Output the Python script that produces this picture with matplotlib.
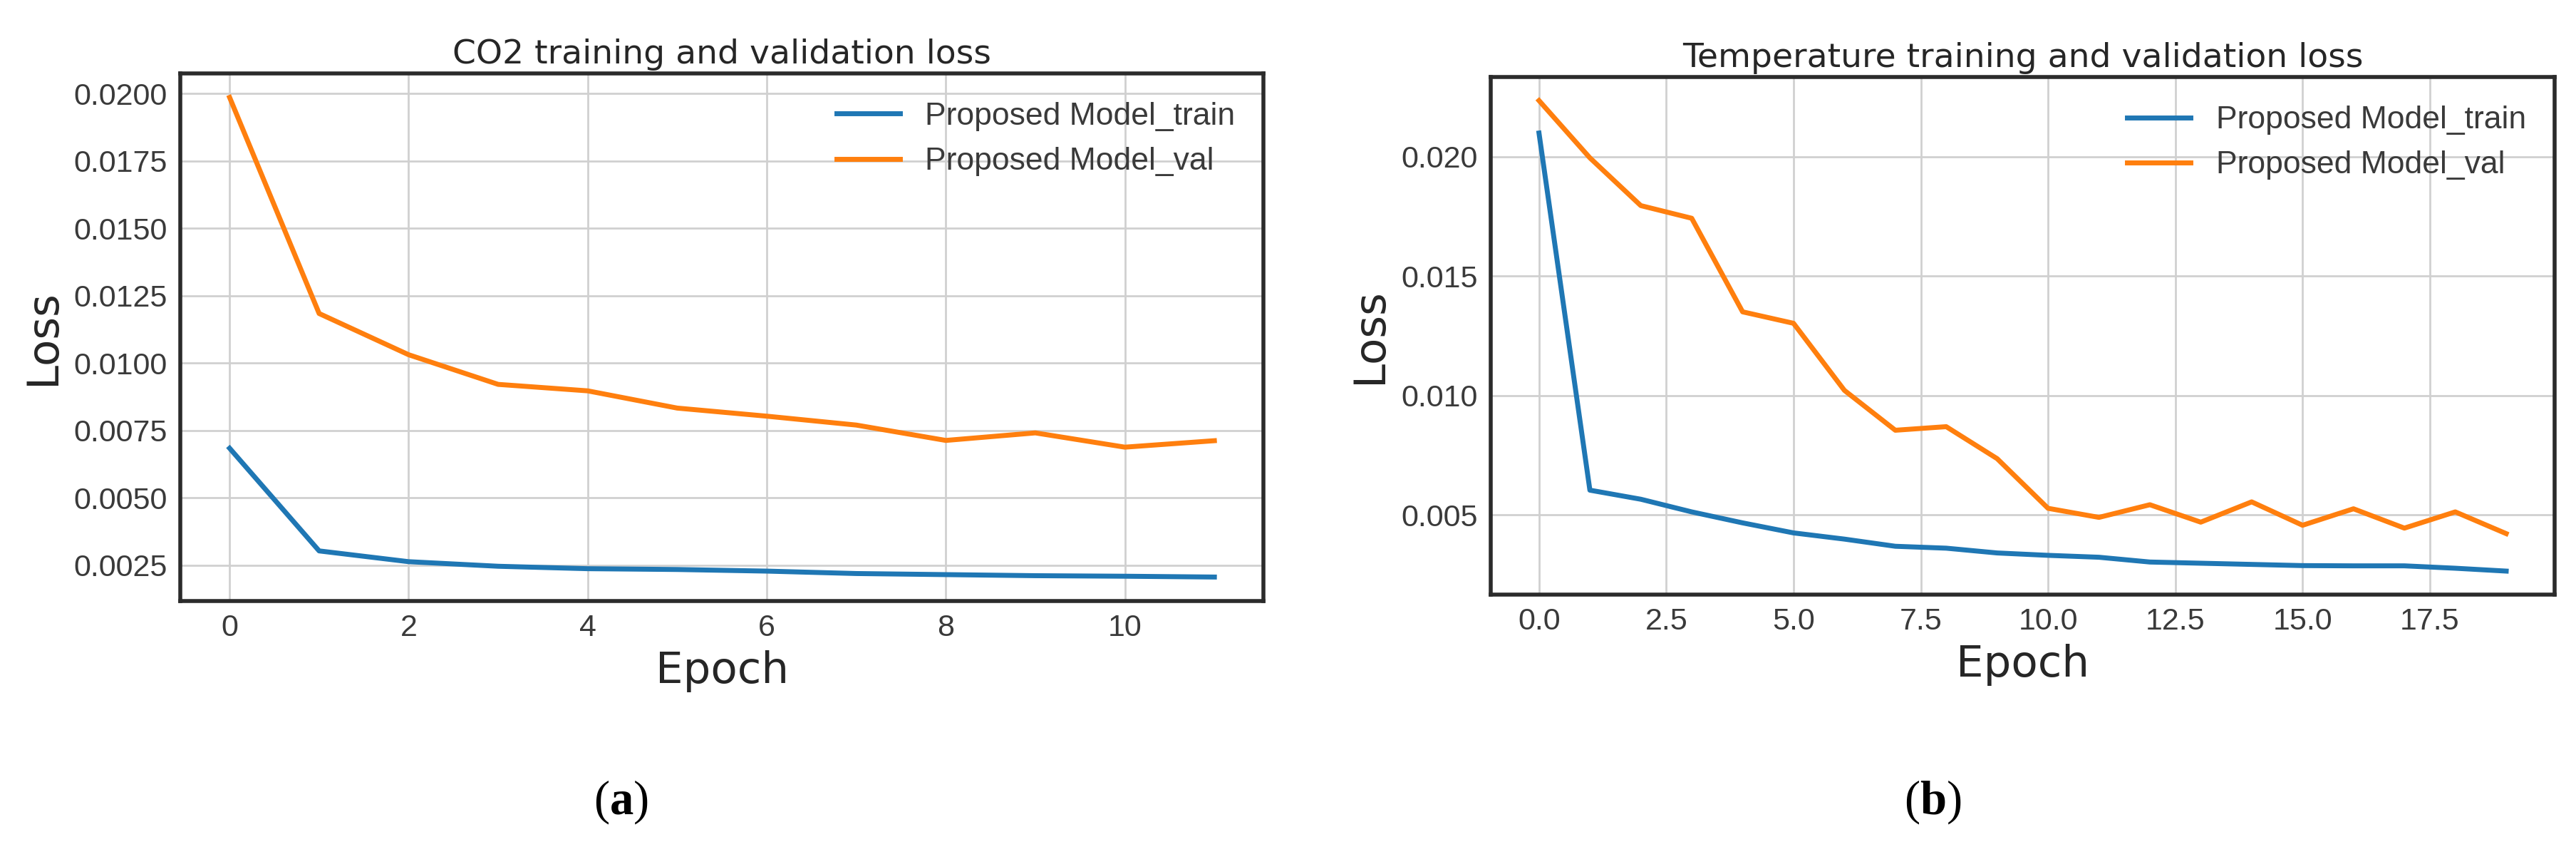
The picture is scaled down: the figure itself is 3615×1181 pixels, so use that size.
import matplotlib
matplotlib.use("Agg")
import matplotlib.pyplot as plt
from matplotlib.ticker import MultipleLocator

# CO2 panel (12 epochs)
co2_epochs = list(range(12))
co2_train = [0.00684, 0.00303, 0.00263, 0.00246, 0.00237, 0.00234,
             0.00228, 0.00219, 0.00215, 0.00211, 0.00209, 0.00206]
co2_val = [0.01986, 0.01184, 0.01031, 0.00921, 0.00897, 0.00833,
           0.00803, 0.00770, 0.00713, 0.00741, 0.00688, 0.00712]

# Temperature panel (20 epochs)
temp_epochs = list(range(20))
temp_train = [0.02099, 0.00603, 0.00565, 0.00512, 0.00466, 0.00424,
              0.00398, 0.00368, 0.00360, 0.00340, 0.00330, 0.00322,
              0.00302, 0.00297, 0.00292, 0.00287, 0.00286, 0.00286,
              0.00276, 0.00264]
temp_val = [0.02235, 0.01995, 0.01795, 0.01742, 0.01350, 0.01302,
            0.01021, 0.00854, 0.00869, 0.00735, 0.00527, 0.00489,
            0.00542, 0.00469, 0.00554, 0.00456, 0.00525, 0.00444,
            0.00512, 0.00421]

titles = ["CO2 training and validation loss", "Temperature training and validation loss"]
captions = ["a", "b"]

plt.rcParams["mathtext.fontset"] = "custom"
plt.rcParams["mathtext.rm"] = "Liberation Serif"
plt.rcParams["mathtext.bf"] = "Liberation Serif:bold"

fig = plt.figure(figsize=(36.16, 11.81), dpi=100)
ax1 = fig.add_axes([0.0700, 0.2862, 0.4204, 0.6266])
ax2 = fig.add_axes([0.5785, 0.2938, 0.4129, 0.6147])

panels = [
    (ax1, co2_epochs, co2_train, co2_val, 2, 0.0025),
    (ax2, temp_epochs, temp_train, temp_val, 2.5, 0.005),
]

for i, (ax, ep, tr, va, xstep, ystep) in enumerate(panels):
    ax.plot(ep, tr, color="#1f77b4", lw=5, label="Proposed Model_train")
    ax.plot(ep, va, color="#ff7f0e", lw=5, label="Proposed Model_val")
    ax.set_facecolor("white")
    ax.grid(True, color="#d0d0d0", lw=2)
    ax.set_axisbelow(True)
    for s in ax.spines.values():
        s.set_color("#2b2b2b")
        s.set_linewidth(4)
    ax.xaxis.set_major_locator(MultipleLocator(xstep))
    ax.yaxis.set_major_locator(MultipleLocator(ystep))
    ax.tick_params(length=0, pad=13, labelsize=31, labelcolor="#3a3a3a")
    for lab in ax.get_xticklabels() + ax.get_yticklabels():
        lab.set_family("Liberation Sans")
    ax.set_title(titles[i], fontsize=34, family="DejaVu Sans", color="#262626", pad=10)
    ax.set_xlabel("Epoch", fontsize=44, family="DejaVu Sans", color="#262626", labelpad=8)
    ax.set_ylabel("Loss", fontsize=44, family="DejaVu Sans", color="#262626", labelpad=10)
    leg = ax.legend(loc="upper right", frameon=False,
                    prop={"family": "Liberation Sans", "size": 32})
    for t in leg.get_texts():
        t.set_color("#3a3a3a")

fig.text(871 / 3616, 1 - 1125 / 1181, "(" + r"$\mathbf{%s}$" % captions[0] + ")",
         ha="center", va="center", fontsize=48, family="Liberation Serif")
fig.text(2712 / 3616, 1 - 1125 / 1181, "(" + r"$\mathbf{%s}$" % captions[1] + ")",
         ha="center", va="center", fontsize=48, family="Liberation Serif")

fig.savefig("out.png", dpi=100, facecolor="white")
